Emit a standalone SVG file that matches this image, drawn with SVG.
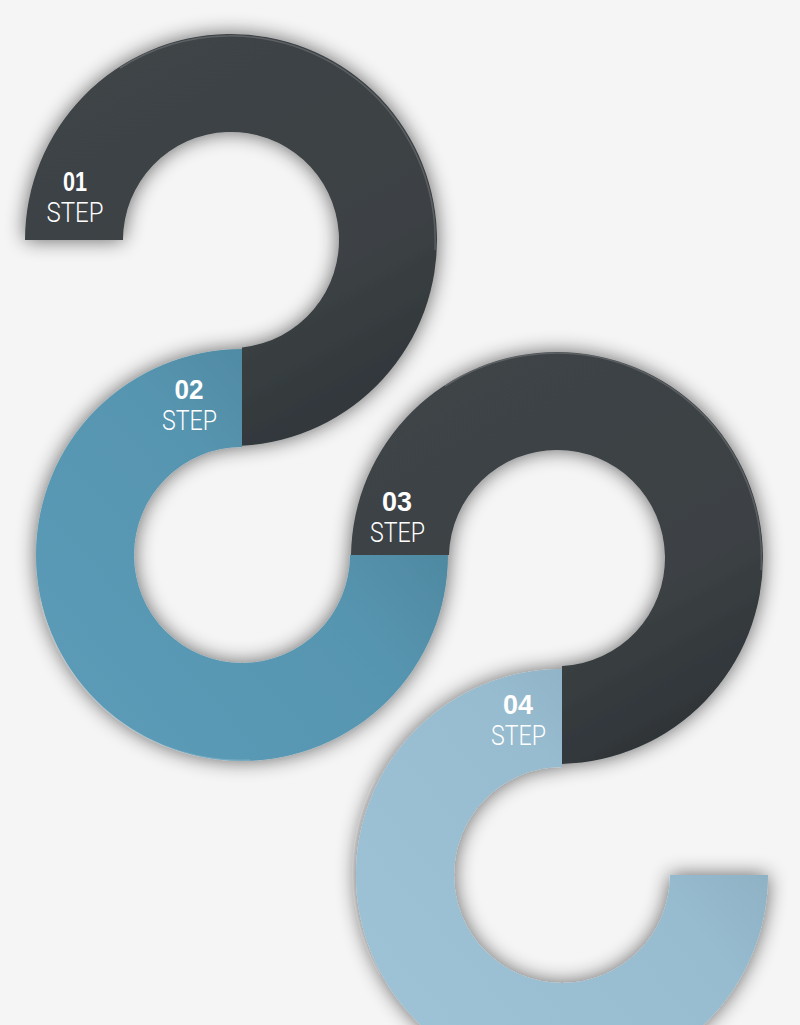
<svg xmlns="http://www.w3.org/2000/svg" width="800" height="1025" viewBox="0 0 800 1025">
  <style>
    .lbl { fill: #ffffff; text-anchor: middle; }
    .num { font-family: "Liberation Sans", Arial, sans-serif; font-weight: 700; font-size: 27px; }
    .step { font-family: Roboto, "Liberation Sans", sans-serif; font-weight: 300; font-size: 27px; }
    .rim { fill: none; stroke: #ffffff; stroke-opacity: 0.16; stroke-width: 1.5; }
  </style>
  <defs>
    <filter id="shadow" x="-20%" y="-20%" width="140%" height="140%">
      <feGaussianBlur in="SourceAlpha" stdDeviation="10"/>
      <feComponentTransfer>
        <feFuncA type="linear" slope="0.6"/>
      </feComponentTransfer>
      <feMerge>
        <feMergeNode/>
        <feMergeNode in="SourceGraphic"/>
      </feMerge>
    </filter>
    <linearGradient id="g1" gradientUnits="userSpaceOnUse" x1="80" y1="60" x2="300" y2="440">
      <stop offset="0" stop-color="#3f4447"/>
      <stop offset="0.7" stop-color="#3c4144"/>
      <stop offset="1" stop-color="#31373a"/>
    </linearGradient>
    <linearGradient id="g3" gradientUnits="userSpaceOnUse" x1="400" y1="380" x2="620" y2="760">
      <stop offset="0" stop-color="#3f4447"/>
      <stop offset="0.7" stop-color="#3c4144"/>
      <stop offset="1" stop-color="#2f3538"/>
    </linearGradient>
    <linearGradient id="g2" gradientUnits="userSpaceOnUse" x1="80" y1="720" x2="440" y2="400">
      <stop offset="0" stop-color="#5b9bb7"/>
      <stop offset="0.55" stop-color="#5795b0"/>
      <stop offset="1" stop-color="#487f95"/>
    </linearGradient>
    <linearGradient id="g4" gradientUnits="userSpaceOnUse" x1="400" y1="1000" x2="770" y2="680">
      <stop offset="0" stop-color="#9dc1d5"/>
      <stop offset="0.55" stop-color="#97bbcf"/>
      <stop offset="1" stop-color="#84a5b7"/>
    </linearGradient>
  </defs>
  <rect x="0" y="0" width="800" height="1025" fill="#f5f5f5"/>
  <g filter="url(#shadow)">
    <g id="step4">
      <path d="M562,669 A206,206 0 1 0 768,875 L670,875 A108,108 0 1 1 562,767 Z" fill="url(#g4)"/>
    </g>
    <g id="step3">
      <path d="M351,555 A206,206 0 1 1 562,763.9 L562,665.9 A108,108 0 1 0 449,555 Z" fill="url(#g3)"/>
    </g>
    <g id="step2">
      <path d="M242,349 A206,206 0 1 0 448,555 L350,555 A108,108 0 1 1 242,447 Z" fill="url(#g2)"/>
    </g>
    <g id="step1">
      <path d="M25,240 A206,206 0 1 1 242,445.7 L242,347.4 A108,108 0 1 0 123,240 Z" fill="url(#g1)"/>
    </g>
  </g>
  <path class="rim" d="M120,68 A205,205 0 0 1 435,250"/>
  <path class="rim" d="M445,386 A205,205 0 0 1 761,570"/>
  <path class="rim" d="M40,600 A205,205 0 0 0 250,760"/>
  <path class="rim" d="M375,780 A205,205 0 0 0 380,975"/>
  <g id="labels">
    <text class="lbl"><tspan class="num" x="75" y="191" textLength="24" lengthAdjust="spacingAndGlyphs">01</tspan><tspan class="step" x="75" y="222" textLength="57" lengthAdjust="spacingAndGlyphs">STEP</tspan></text>
    <text class="lbl"><tspan class="num" x="189" y="399" textLength="29" lengthAdjust="spacingAndGlyphs">02</tspan><tspan class="step" x="189.5" y="430" textLength="55" lengthAdjust="spacingAndGlyphs">STEP</tspan></text>
    <text class="lbl"><tspan class="num" x="397" y="511" textLength="30" lengthAdjust="spacingAndGlyphs">03</tspan><tspan class="step" x="397.5" y="542" textLength="55" lengthAdjust="spacingAndGlyphs">STEP</tspan></text>
    <text class="lbl"><tspan class="num" x="518" y="714" textLength="30" lengthAdjust="spacingAndGlyphs">04</tspan><tspan class="step" x="518.5" y="745" textLength="55" lengthAdjust="spacingAndGlyphs">STEP</tspan></text>
  </g>
</svg>
